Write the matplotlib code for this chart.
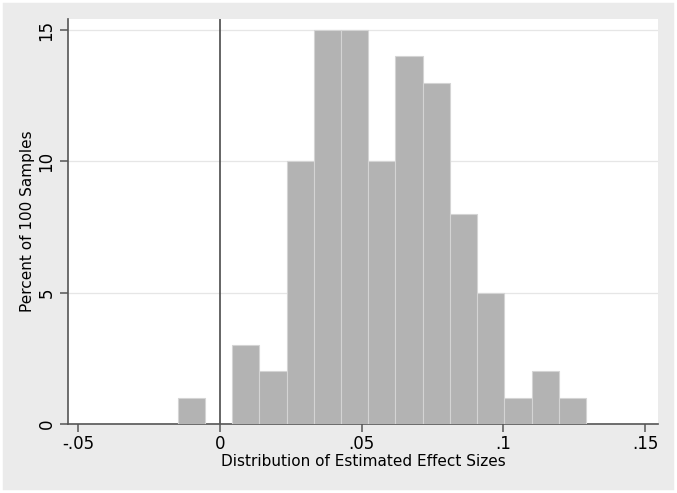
import numpy as np
import matplotlib
matplotlib.use('Agg')
import matplotlib.pyplot as plt

# histogram: 15 bins, percent of 100 samples
bin_start = -0.01493
bin_width = 0.009605
percent = [1, 0, 3, 2, 10, 15, 15, 10, 14, 13, 8, 5, 1, 2, 1]

xticks = [-0.05, 0, 0.05, 0.1, 0.15]
xticklabels = ['-.05', '0', '.05', '.1', '.15']
yticks = [0, 5, 10, 15]

plt.rcParams['font.family'] = ['DejaVu Sans']

fig = plt.figure(figsize=(6.77, 4.93), dpi=100)
fig.patch.set_facecolor('#ebebeb')
ax = fig.add_axes([68/677, 69/493, 590/677, 405/493])
ax.set_facecolor('white')

edges = bin_start + bin_width*np.arange(len(percent) + 1)
left = edges[:-1]
pct = np.array(percent)
keep = pct > 0  # empty bins draw nothing
ax.bar(left[keep], pct[keep], width=bin_width, align='edge', color='#b3b3b3',
       edgecolor='#d4d4d4', linewidth=0.8, zorder=3)

for y in yticks[1:]:
    ax.axhline(y, color='#e6e6e6', linewidth=0.9, zorder=1)
ax.axvline(0, color='#4a4a4a', linewidth=1.2, zorder=2)

ax.set_xlim(-0.0536, 0.1545)
ax.set_ylim(0, 15.42)

ax.set_xticks(xticks)
ax.set_xticklabels(xticklabels)
ax.set_yticks(yticks)
ax.set_yticklabels([str(t) for t in yticks], rotation=90, va='center')

for s in ['top', 'right']:
    ax.spines[s].set_visible(False)
for s in ['left', 'bottom']:
    ax.spines[s].set_color('#555555')
    ax.spines[s].set_linewidth(1.2)
ax.tick_params(axis='both', colors='#555555', labelcolor='black',
               labelsize=12, length=6, width=1.1, direction='out')
ax.tick_params(axis='x', pad=2)
ax.tick_params(axis='y', pad=3)

ax.set_xlabel('Distribution of Estimated Effect Sizes', fontsize=11, labelpad=1)
ax.set_ylabel('Percent of 100 Samples', fontsize=11, labelpad=2)

# white strip along the image edge, like the source screenshot
fig.patches.append(plt.Rectangle((0, 0), 1, 1, transform=fig.transFigure,
                                 fill=False, edgecolor='white', linewidth=4))

fig.savefig('out.png', dpi=100, facecolor=fig.get_facecolor())
